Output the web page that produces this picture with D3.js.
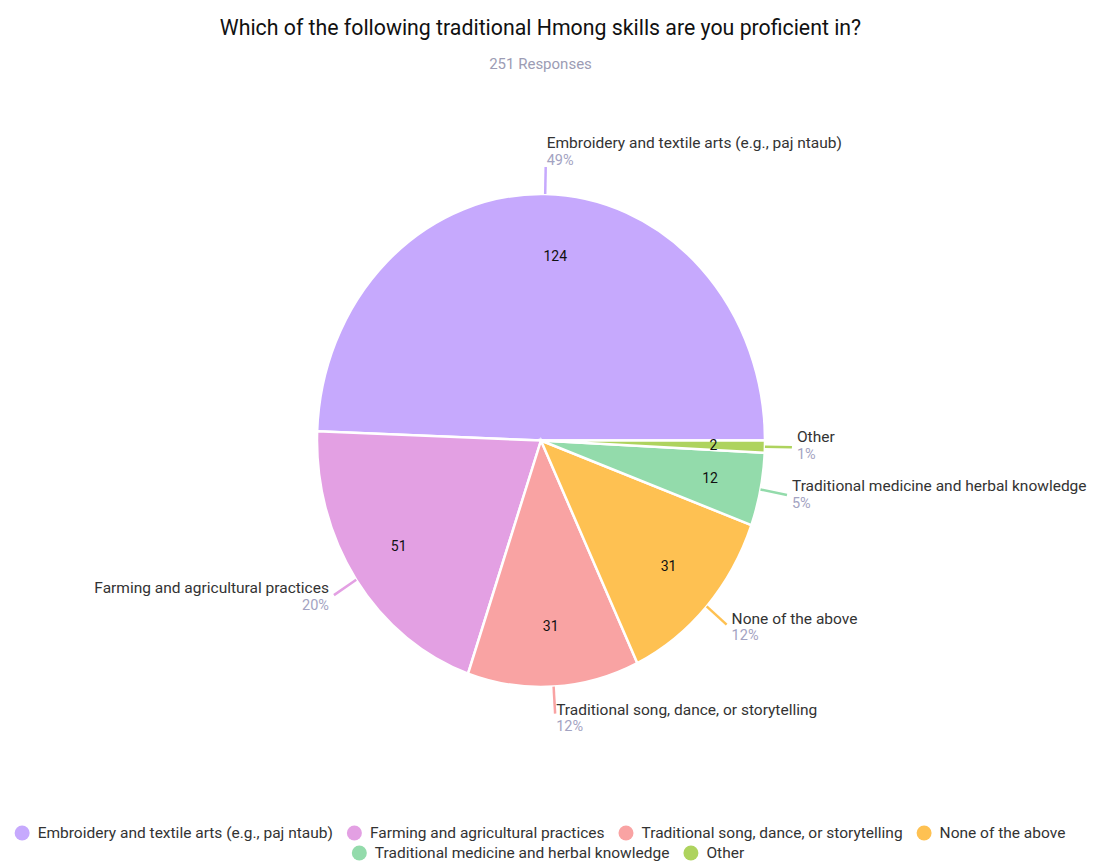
<!DOCTYPE html>
<html><head><meta charset="utf-8">
<script src="https://cdn.jsdelivr.net/npm/d3@7"></script>
<style>body{margin:0;background:#fff;} svg{display:block;font-family:Roboto,"Noto Sans",sans-serif;}</style>
</head><body>
<svg id="chart" width="1099" height="861"></svg>
<script>
const categories = ["Embroidery and textile arts (e.g., paj ntaub)","Farming and agricultural practices","Traditional song, dance, or storytelling","None of the above","Traditional medicine and herbal knowledge","Other"];
const values = [124, 51, 31, 31, 12, 2];
const percentLabels = ["49%","20%","12%","12%","5%","1%"];
const colors = ["#c6a9fd","#e3a0e3","#f9a3a3","#fec152","#93dbab","#aed35e"];
const title = "Which of the following traditional Hmong skills are you proficient in?";
const subtitle = "251 Responses";

const svg = d3.select("#chart");
const cx = 541, cy = 440.5, rx = 224, ry = 246.5;

svg.append("text").attr("x", 540.5).attr("y", 35).attr("text-anchor","middle")
  .attr("font-size", 21.3).attr("fill","#111").text(title);
svg.append("text").attr("x", 540.5).attr("y", 69).attr("text-anchor","middle")
  .attr("font-size", 15).attr("fill","#9c9cb4").text(subtitle);

const data = categories.map((c,i)=>({name:c, value:values[i], pct:percentLabels[i], color:colors[i]}));
const pie = d3.pie().value(d=>d.value).sort(null).startAngle(Math.PI/2).endAngle(Math.PI/2 - 2*Math.PI);
const arcs = pie(data);
const arc = d3.arc().innerRadius(0).outerRadius(rx);

const g = svg.append("g").attr("transform", `translate(${cx},${cy}) scale(1,${ry/rx})`);
g.selectAll("path").data(arcs).join("path")
  .attr("d", arc).attr("fill", d=>d.data.color)
  .attr("stroke","#fff").attr("stroke-width",2.5)
  .style("vector-effect","non-scaling-stroke");

const lab = svg.append("g");
arcs.forEach(a=>{
  const m = (a.startAngle + a.endAngle)/2;
  const s = Math.sin(m), c = Math.cos(m);
  lab.append("text").attr("x", cx + rx*0.77*s + (c > 0.9 ? 11 : 0)).attr("y", cy - ry*0.755*c + (c > 0.9 ? 2 : 0))
    .attr("text-anchor","middle").attr("dominant-baseline","central")
    .attr("font-size",14).attr("fill","#111").text(a.data.value);
  const x1 = cx + rx*s, y1 = cy - ry*c;
  const x2 = cx + (rx+27)*s, y2 = cy - (ry+27)*c;
  lab.append("line").attr("x1",x1).attr("y1",y1).attr("x2",x2).attr("y2",y2)
    .attr("stroke", a.data.color).attr("stroke-width",2.5);
  let anchor, tx;
  if (Math.abs(s) < 0.2) { anchor = "start"; tx = x2 + 1; }
  else if (s > 0) { anchor = "start"; tx = x2 + 5; }
  else { anchor = "end"; tx = x2 - 5; }
  const down = 6*Math.max(0, -c);
  let ny = y2 - 10 + down, py = y2 + 7 + down;
  if (c > 0.9) { ny = y2 - 24; py = y2 - 7; }
  lab.append("text").attr("x",tx).attr("y",ny).attr("text-anchor",anchor)
    .attr("dominant-baseline","central").attr("font-size",15.5).attr("fill","#333").text(a.data.name);
  lab.append("text").attr("x",tx).attr("y",py).attr("text-anchor",anchor)
    .attr("dominant-baseline","central").attr("font-size",14.5).attr("fill","#a3a3c2").text(a.data.pct);
});

const legendRows = [[0,1,2,3],[4,5]];
const rowY = [833, 853];
const rowCenter = [540, 548];
const leg = svg.append("g");
legendRows.forEach((row, ri)=>{
  const rg = leg.append("g");
  let x = 0;
  row.forEach(i=>{
    rg.append("circle").attr("cx", x+7.5).attr("cy", rowY[ri]).attr("r",7.5).attr("fill",colors[i]);
    const t = rg.append("text").attr("x", x+23).attr("y", rowY[ri]).attr("dominant-baseline","central")
      .attr("font-size",15.5).attr("fill","#333").text(categories[i]);
    x += 23 + t.node().getComputedTextLength() + 14;
  });
  const total = x - 14;
  rg.attr("transform", `translate(${rowCenter[ri] - total/2},0)`);
});
</script>
</body></html>
